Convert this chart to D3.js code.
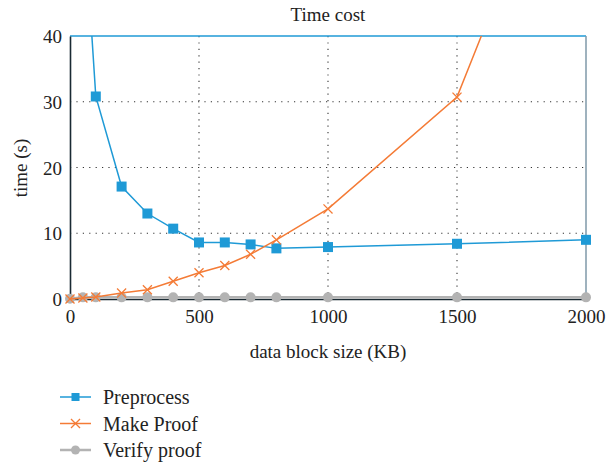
<!DOCTYPE html>
<html>
<head>
<meta charset="utf-8">
<script src="https://cdn.jsdelivr.net/npm/d3@7"></script>
</head>
<body style="margin:0">
<script>
// data
var preSizes = [50, 100, 200, 300, 400, 500, 600, 700, 800, 1000, 1500, 2000];
var preTimes = [61, 30.8, 17.1, 13.0, 10.7, 8.6, 8.6, 8.3, 7.7, 7.9, 8.4, 9.0];

var makeSizes = [0, 50, 100, 200, 300, 400, 500, 600, 700, 800, 1000, 1500, 2000];
var makeTimes = [0, 0.15, 0.3, 0.9, 1.4, 2.7, 4.0, 5.1, 6.8, 9.0, 13.7, 30.7, 80];

var verSizes = [0, 50, 100, 200, 300, 400, 500, 600, 700, 800, 1000, 1500, 2000];
var verTimes = [0.05, 0.25, 0.25, 0.25, 0.25, 0.25, 0.25, 0.25, 0.25, 0.25, 0.25, 0.25, 0.25];

var xTicks = [0, 500, 1000, 1500, 2000];
var yTicks = [0, 10, 20, 30, 40];
var seriesNames = ["Preprocess", "Make Proof", "Verify proof"];

var blue = "#1f9ad6", orange = "#f47b36", grey = "#b3b3b3";

var svgWidth = 606, svgHeight = 463;
var margin = { top: 36, left: 70 };
var width = 586 - margin.left;
var height = 299 - margin.top;

var svg = d3.select("body").append("svg")
  .attr("width", svgWidth)
  .attr("height", svgHeight)
  .attr("font-family", "Liberation Serif");

var g = svg.append("g")
  .attr("transform", `translate(${margin.left}, ${margin.top})`);

var x = d3.scaleLinear().domain([0, 2000]).range([0, width]);
var y = d3.scaleLinear().domain([0, 40]).range([height, 0]);

// dotted grid
g.append("g").selectAll("line")
  .data(xTicks.slice(1, -1)).enter().append("line")
  .attr("x1", d => x(d)).attr("x2", d => x(d))
  .attr("y1", 0).attr("y2", height)
  .attr("stroke", "#333").attr("stroke-width", 1.1)
  .attr("stroke-dasharray", "1.2,5.2");

g.append("g").selectAll("line")
  .data(yTicks.slice(1, -1)).enter().append("line")
  .attr("x1", 0).attr("x2", width)
  .attr("y1", d => y(d)).attr("y2", d => y(d))
  .attr("stroke", "#333").attr("stroke-width", 1.1)
  .attr("stroke-dasharray", "1.2,5.2");

// frame
g.append("line").attr("x1", 0).attr("x2", width).attr("y1", 0).attr("y2", 0)
  .attr("stroke", blue).attr("stroke-width", 1.5);
g.append("line").attr("x1", width).attr("x2", width).attr("y1", 0).attr("y2", height)
  .attr("stroke", "#7f98a8").attr("stroke-width", 1.5);

// axes
var xAxis = d3.axisBottom(x).tickValues(xTicks).tickFormat(d3.format("d")).tickSize(0).tickPadding(11);
var yAxis = d3.axisLeft(y).tickValues(yTicks).tickFormat(d3.format("d")).tickSize(0).tickPadding(8);

var xg = g.append("g").attr("transform", `translate(0, ${height})`).call(xAxis);
var yg = g.append("g").call(yAxis);
[xg, yg].forEach(function(a) {
  a.attr("font-family", "Times New Roman").attr("font-size", 19);
  a.select(".domain").attr("stroke", "#1a2a33").attr("stroke-width", 1.6);
  a.selectAll("text").attr("fill", "#222");
});
xg.selectAll("text").attr("dy", "0.71em");
yg.selectAll("text").attr("dy", "0.35em");

// line generator
var line = d3.line()
  .x(d => x(d[0]))
  .y(d => y(d[1]));

var pre = preSizes.map((s, i) => [s, preTimes[i]]);
var make = makeSizes.map((s, i) => [s, makeTimes[i]]);
var ver = verSizes.map((s, i) => [s, verTimes[i]]);

// lines leaving the top are cut by the clip
svg.append("clipPath").attr("id", "plotclip")
  .append("rect").attr("x", margin.left - 6).attr("y", margin.top)
  .attr("width", width + 12).attr("height", height + 8);
var plot = svg.append("g").attr("clip-path", "url(#plotclip)")
  .append("g").attr("transform", `translate(${margin.left}, ${margin.top})`);

plot.append("path").datum(ver).attr("d", line)
  .attr("fill", "none").attr("stroke", grey).attr("stroke-width", 2.5);
plot.selectAll(".vdot").data(ver).enter().append("circle")
  .attr("cx", d => x(d[0])).attr("cy", d => y(d[1])).attr("r", 5)
  .attr("fill", grey);

plot.append("path").datum(pre).attr("d", line)
  .attr("fill", "none").attr("stroke", blue).attr("stroke-width", 1.5);
plot.selectAll(".pdot").data(pre.filter(d => d[1] <= 40)).enter().append("rect")
  .attr("x", d => x(d[0]) - 5).attr("y", d => y(d[1]) - 5)
  .attr("width", 10).attr("height", 10).attr("fill", blue);

plot.append("path").datum(make).attr("d", line)
  .attr("fill", "none").attr("stroke", orange).attr("stroke-width", 1.5);

var cross = d3.symbol().type(d3.symbolX).size(55);
plot.selectAll(".mdot").data(make.filter(d => d[1] <= 40)).enter().append("path")
  .attr("d", cross)
  .attr("transform", d => `translate(${x(d[0])}, ${y(d[1])})`)
  .attr("fill", "none").attr("stroke", orange).attr("stroke-width", 1.3);

// titles
svg.append("text").attr("x", 328).attr("y", 21).attr("text-anchor", "middle")
  .attr("font-size", 19).attr("fill", "#222").text("Time cost");
svg.append("text").attr("transform", "translate(27, 168) rotate(-90)")
  .attr("font-family", "serif")
  .attr("text-anchor", "middle").attr("font-size", 19).attr("fill", "#222").text("time (s)");
svg.append("text").attr("x", 328).attr("y", 358).attr("text-anchor", "middle")
  .attr("font-family", "Times New Roman")
  .attr("font-size", 19).attr("fill", "#222").text("data block size (KB)");

// legend
var legend = svg.append("g").attr("transform", "translate(60, 397)");
seriesNames.forEach(function(name, i) {
  var row = legend.append("g").attr("transform", `translate(0, ${i * 26.5})`);
  var col = [blue, orange, grey][i];
  row.append("line").attr("x1", 0).attr("x2", 31).attr("y1", 0).attr("y2", 0)
    .attr("stroke", col).attr("stroke-width", i === 2 ? 2.5 : 1.5);
  if (i === 0) {
    row.append("rect").attr("x", 11.5).attr("y", -4).attr("width", 8).attr("height", 8).attr("fill", blue);
  } else if (i === 1) {
    row.append("path").attr("d", cross).attr("transform", "translate(15.5, 0)")
      .attr("fill", "none").attr("stroke", orange).attr("stroke-width", 1.3);
  } else {
    row.append("circle").attr("cx", 15.5).attr("cy", 0).attr("r", 4.5).attr("fill", grey);
  }
  row.append("text").attr("x", 43).attr("y", 0).attr("dy", "0.35em")
    .attr("font-size", 20).attr("fill", "#222").text(name);
});
</script>
</body>
</html>
